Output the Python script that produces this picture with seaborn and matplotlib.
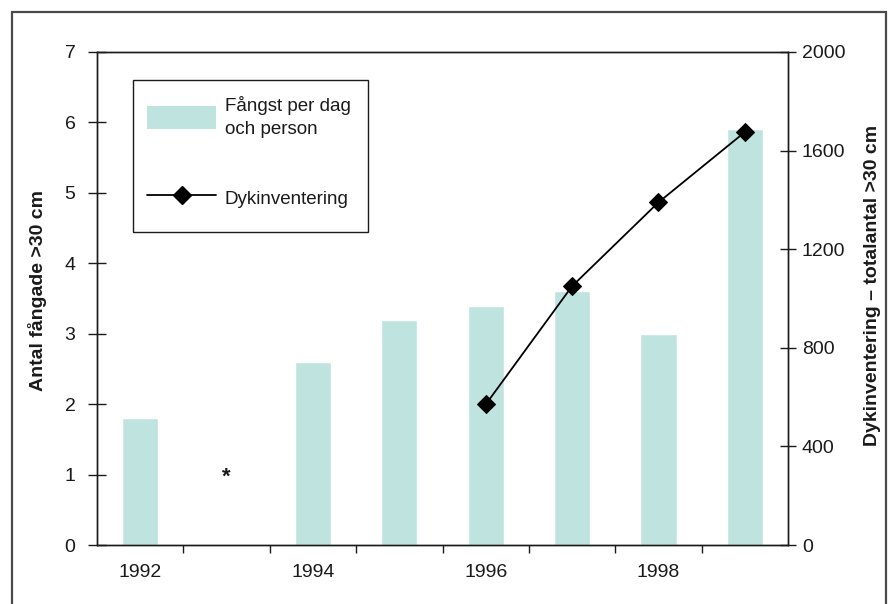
import matplotlib
matplotlib.use("Agg")
import matplotlib.pyplot as plt
import seaborn as sns
from matplotlib.patches import Patch, Rectangle
from matplotlib.lines import Line2D
from matplotlib.ticker import FixedLocator

# Catch per day and person (left axis); 1993 has no survey
years = [1992, 1993, 1994, 1995, 1996, 1997, 1998, 1999]
catch_years = [1992, 1994, 1995, 1996, 1997, 1998, 1999]
catch_per_day = [1.8, 2.6, 3.2, 3.4, 3.6, 3.0, 5.9]
missing_year = 1993
missing_mark_level = 1.0

# Dive inventory, total count >30 cm (right axis)
dive_years = [1996, 1997, 1998, 1999]
dive_counts = [570, 1050, 1390, 1675]

year_labels = ["1992", "1994", "1996", "1998"]
left_ticks = [0, 1, 2, 3, 4, 5, 6, 7]
right_ticks = [0, 400, 800, 1200, 1600, 2000]

bar_color = "#bfe4e0"
ink = "#1a1a1a"

sns.set_style("white")
plt.rcParams["font.family"] = ["Liberation Sans", "DejaVu Sans"]

W, H = 895, 604
fig = plt.figure(figsize=(W / 100, H / 100), dpi=100)
ax = fig.add_axes([97 / W, 59 / H, 691 / W, 493 / H])

sns.barplot(x=catch_years, y=catch_per_day, native_scale=True, width=0.42,
            color=bar_color, saturation=1, errorbar=None, ax=ax, zorder=2)
ax.text(missing_year, missing_mark_level, "*", ha="center", va="center_baseline",
        fontsize=16, fontweight="bold", color=ink)

ax.set_xlim(years[0] - 0.5, years[-1] + 0.5)
ax.set_ylim(left_ticks[0], left_ticks[-1])
ax.set_yticks(left_ticks)
ax.set_xticks([int(y) for y in year_labels])
ax.set_xticklabels(year_labels)
ax.xaxis.set_minor_locator(FixedLocator([y + 0.5 for y in years[:-1]]))
ax.tick_params(axis="x", which="major", length=0, pad=14, labelsize=14, labelcolor=ink)
ax.tick_params(axis="x", which="minor", bottom=True, length=6, width=1,
               direction="out", color=ink)
ax.tick_params(axis="y", left=True, direction="inout", length=13, width=1,
               pad=9, labelsize=14, color=ink, labelcolor=ink)
ax.set_xlabel("")
ax.set_ylabel("Antal fångade >30 cm", fontsize=14, fontweight="bold", color=ink)
ax.yaxis.set_label_coords(-0.072, 0.517)

ax2 = ax.twinx()
sns.lineplot(x=dive_years, y=dive_counts, ax=ax2, color="black", linewidth=1.3,
             marker="D", markersize=8.7, markeredgecolor="black", zorder=3)
ax2.set_xlim(years[0] - 0.5, years[-1] + 0.5)
ax2.set_ylim(right_ticks[0], right_ticks[-1])
ax2.set_yticks(right_ticks)
ax2.tick_params(axis="y", right=True, direction="inout", length=12, width=1,
                pad=4, labelsize=14, color=ink, labelcolor=ink)
ax2.set_ylabel("Dykinventering – totalantal >30 cm", fontsize=14,
               fontweight="bold", color=ink)
ax2.yaxis.set_label_coords(1.11, 0.527)

for a in (ax, ax2):
    for s in a.spines.values():
        s.set_visible(True)
        s.set_color(ink)
        s.set_linewidth(1)

# legend entries, with a separate box drawn around them
handles = [Patch(facecolor=bar_color, edgecolor="none"),
           Line2D([], [], color="black", linewidth=1.3, marker="D", markersize=8.7)]
labels = ["Fångst per dag\noch person", "Dykinventering"]
leg = ax2.legend(handles, labels, loc="upper left",
                 bbox_to_anchor=(147 / W, 1 - 96 / H), bbox_transform=fig.transFigure,
                 frameon=False, fontsize=13.5, handlelength=3.7, handleheight=1.5,
                 handletextpad=0.45, labelspacing=2.6, borderpad=0,
                 borderaxespad=0)
for t in leg.get_texts():
    t.set_linespacing(1.45)
    t.set_color(ink)
fig.add_artist(Rectangle((133 / W, 1 - 232 / H), (368 - 133) / W, (232 - 80) / H,
                         transform=fig.transFigure, facecolor="white",
                         edgecolor=ink, linewidth=1, zorder=4))
leg.set_zorder(5)
fig.add_artist(leg)

# outer frame around the whole figure
fig.add_artist(Rectangle((12 / W, -0.02), (886 - 12) / W, (H - 12) / H + 0.02,
                         transform=fig.transFigure, fill=False,
                         edgecolor="#4a4a4a", linewidth=1.6, clip_on=False))

fig.savefig("out.png", dpi=100)
